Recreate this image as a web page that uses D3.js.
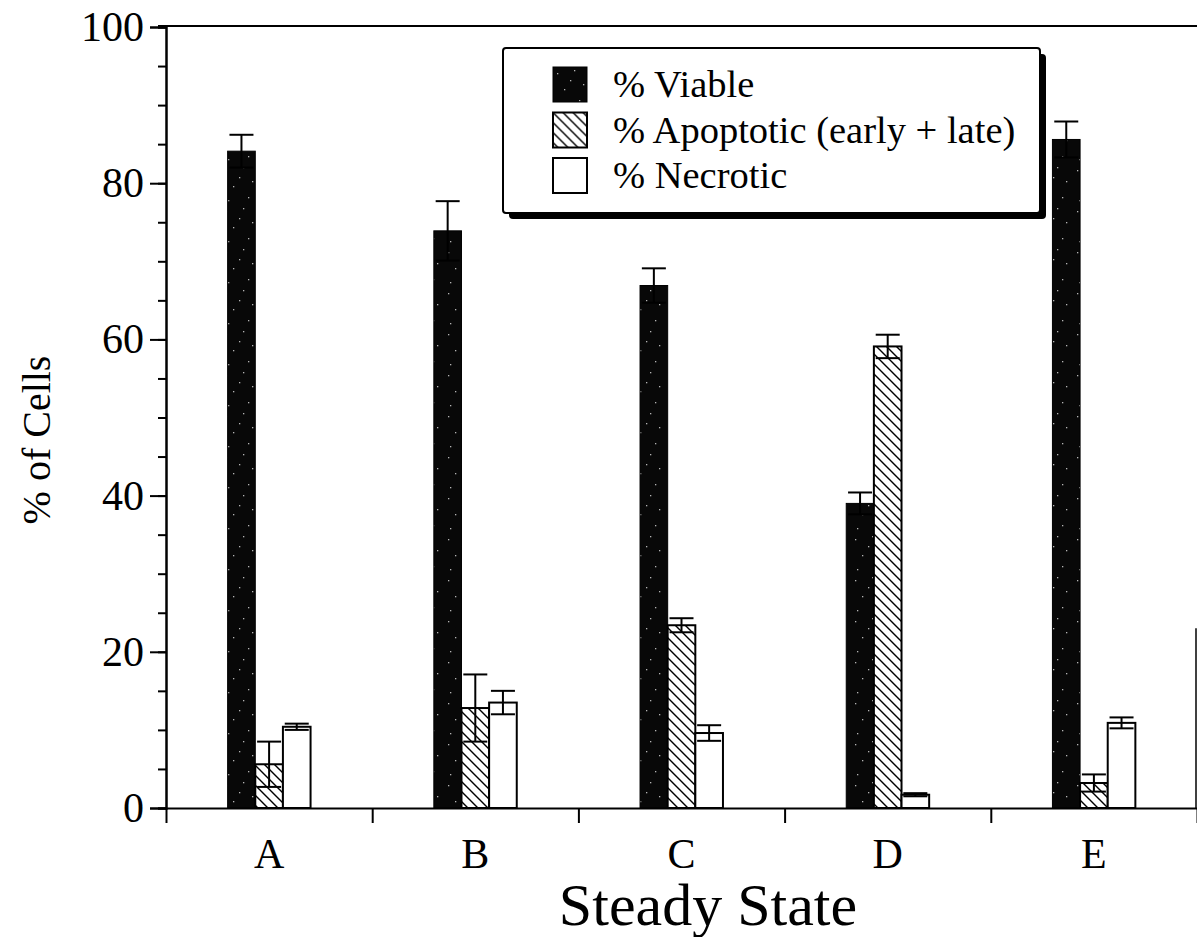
<!DOCTYPE html>
<html>
<head>
<meta charset="utf-8">
<script src="https://cdn.jsdelivr.net/npm/d3@7"></script>
<style>
  body { margin: 0; background: #fff; }
  svg { display: block; font-family: "Liberation Serif", "Times New Roman", serif; }
</style>
</head>
<body>
<svg id="chart" width="1197" height="937"></svg>
<script>
// --- data ---
var states = ["A", "B", "C", "D", "E"];
var seriesNames = ["% Viable", "% Apoptotic (early + late)", "% Necrotic"];
var viable     = [84.1, 73.9, 66.9, 39.0, 85.6];
var viableErr  = [2.1, 3.8, 2.2, 1.4, 2.3];
var apoptotic    = [5.6, 12.8, 23.4, 59.1, 3.2];
var apoptoticErr = [2.9, 4.3, 0.9, 1.5, 1.1];
var necrotic    = [10.4, 13.5, 9.6, 1.7, 10.9];
var necroticErr = [0.4, 1.5, 1.0, 0.2, 0.7];
var yTicks = [0, 20, 40, 60, 80, 100];

var svg = d3.select("#chart");
var mLeft = 166, mRight = 1197, mTop = 27, mBottom = 808;

var x = d3.scaleBand().domain(states).range([mLeft, mRight]);
var xs = d3.scaleBand().domain(d3.range(3)).range([0, x.bandwidth()]).paddingOuter(2.23);
var y = d3.scaleLinear().domain([0, 100]).range([mBottom, mTop]);

// patterns
var defs = svg.append("defs");
var hatch = defs.append("pattern").attr("id", "hatch")
    .attr("patternUnits", "userSpaceOnUse").attr("width", 10).attr("height", 10);
hatch.append("rect").attr("width", 10).attr("height", 10).attr("fill", "#fff");
hatch.append("path").attr("d", "M-2,-2 L12,12 M-2,8 L2,12 M8,-2 L12,2")
    .attr("stroke", "#000").attr("stroke-width", 1.4);

// dark fill with a few light specks, like the scanned print
var speck = defs.append("pattern").attr("id", "speck")
    .attr("patternUnits", "userSpaceOnUse").attr("width", 37).attr("height", 41);
speck.append("rect").attr("width", 37).attr("height", 41).attr("fill", "#080808");
[[4, 6], [21, 3], [30, 17], [11, 22], [26, 33], [6, 36], [17, 13]].forEach(function (p) {
    speck.append("rect").attr("x", p[0]).attr("y", p[1]).attr("width", 1.3).attr("height", 1.3)
        .attr("fill", "#fff").attr("opacity", 0.7);
});

var fills = ["url(#speck)", "url(#hatch)", "#fff"];

var rows = [];
states.forEach(function (s, i) {
    rows.push({ state: s, k: 0, v: viable[i], e: viableErr[i] });
    rows.push({ state: s, k: 1, v: apoptotic[i], e: apoptoticErr[i] });
    rows.push({ state: s, k: 2, v: necrotic[i], e: necroticErr[i] });
});

// frame bits
svg.append("line").attr("x1", mLeft - 8).attr("x2", mRight).attr("y1", y(100) - 1).attr("y2", y(100) - 1)
    .attr("stroke", "#000").attr("stroke-width", 2);
svg.append("line").attr("x1", mRight - 1).attr("x2", mRight - 1).attr("y1", y(23)).attr("y2", y(0))
    .attr("stroke", "#000").attr("stroke-width", 1.5);

// bars
var g = svg.append("g");
g.selectAll("rect.bar").data(rows).join("rect").attr("class", "bar")
    .attr("x", function (d) { return x(d.state) + xs(d.k); })
    .attr("width", xs.bandwidth())
    .attr("y", function (d) { return y(d.v); })
    .attr("height", function (d) { return y(0) - y(d.v); })
    .attr("fill", function (d) { return fills[d.k]; })
    .attr("stroke", "#000").attr("stroke-width", function (d) { return d.k === 0 ? 1 : 2; });

// error bars (both directions)
var eb = g.selectAll("g.err").data(rows).join("g").attr("class", "err")
    .attr("transform", function (d) { return "translate(" + (x(d.state) + xs(d.k) + xs.bandwidth() / 2) + ",0)"; });
eb.append("line").attr("y1", function (d) { return y(d.v + d.e); })
    .attr("y2", function (d) { return y(Math.max(0, d.v - d.e)); })
    .attr("stroke", "#000").attr("stroke-width", 2);
eb.append("line").attr("x1", -12).attr("x2", 12)
    .attr("y1", function (d) { return y(d.v + d.e); }).attr("y2", function (d) { return y(d.v + d.e); })
    .attr("stroke", "#000").attr("stroke-width", 2);
eb.append("line").attr("x1", -12).attr("x2", 12)
    .attr("y1", function (d) { return y(Math.max(0, d.v - d.e)); }).attr("y2", function (d) { return y(Math.max(0, d.v - d.e)); })
    .attr("stroke", "#000").attr("stroke-width", 2);

// y axis
svg.append("g").attr("transform", "translate(" + mLeft + ",0)")
    .call(d3.axisLeft(y).tickValues(d3.range(0, 101, 5)).tickSize(8).tickFormat(""));
var yAxis = svg.append("g").attr("transform", "translate(" + mLeft + ",0)")
    .call(d3.axisLeft(y).tickValues(yTicks).tickSize(16).tickPadding(6));
yAxis.selectAll("text").attr("font-size", 42).attr("font-family", "Liberation Serif").attr("fill", "#000");
svg.selectAll(".domain, .tick line").attr("stroke", "#000").attr("stroke-width", 2);

// x axis
var xEdge = d3.scaleLinear().domain([0, states.length]).range([mLeft, mRight]);
svg.append("g").attr("transform", "translate(0," + mBottom + ")")
    .call(d3.axisBottom(xEdge).tickValues(d3.range(0, states.length + 1)).tickSize(15).tickFormat("").tickSizeOuter(0))
    .selectAll("line, path").attr("stroke", "#000").attr("stroke-width", 2);
var xAxis = svg.append("g").attr("transform", "translate(0," + mBottom + ")")
    .call(d3.axisBottom(x).tickSize(0).tickPadding(30));
xAxis.select(".domain").remove();
xAxis.selectAll("text").attr("font-size", 42).attr("font-family", "Liberation Serif").attr("fill", "#000");

// titles
svg.append("text").attr("x", 708).attr("y", 925).attr("text-anchor", "middle")
    .attr("font-size", 60).text("Steady State");
svg.append("text").attr("transform", "translate(50,440) rotate(-90)").attr("text-anchor", "middle")
    .attr("font-size", 40).text("% of Cells");

// legend
var lg = svg.append("g").attr("transform", "translate(503,48)");
lg.append("rect").attr("x", 6).attr("y", 6).attr("width", 537).attr("height", 165).attr("rx", 4).attr("fill", "#000");
lg.append("rect").attr("x", 0).attr("y", 0).attr("width", 537).attr("height", 165).attr("rx", 3)
    .attr("fill", "#fff").attr("stroke", "#000").attr("stroke-width", 2);
var items = lg.selectAll("g.item").data(seriesNames).join("g").attr("class", "item")
    .attr("transform", function (d, i) { return "translate(50," + (19 + i * 45.5) + ")"; });
items.append("rect").attr("width", 34).attr("height", 35)
    .attr("fill", function (d, i) { return fills[i]; })
    .attr("stroke", "#000").attr("stroke-width", function (d, i) { return i === 0 ? 1 : 2; });
items.append("text").attr("x", 60).attr("y", 30).attr("font-size", 38.5).text(function (d) { return d; });
</script>
</body>
</html>
